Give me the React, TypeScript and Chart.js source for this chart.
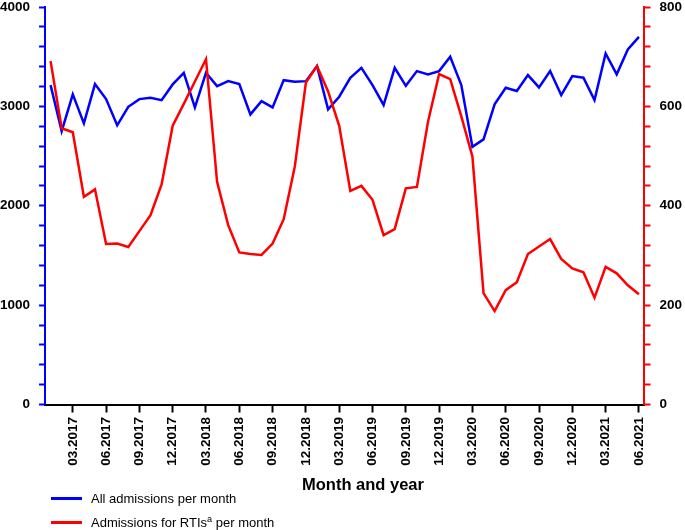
import React, { useEffect, useRef } from "react";
import { Chart, registerables } from "chart.js";

Chart.register(...registerables);

const months: string[] = [
  "01.2017", "02.2017", "03.2017", "04.2017", "05.2017", "06.2017", "07.2017", "08.2017", "09.2017", "10.2017", "11.2017", "12.2017",
  "01.2018", "02.2018", "03.2018", "04.2018", "05.2018", "06.2018", "07.2018", "08.2018", "09.2018", "10.2018", "11.2018", "12.2018",
  "01.2019", "02.2019", "03.2019", "04.2019", "05.2019", "06.2019", "07.2019", "08.2019", "09.2019", "10.2019", "11.2019", "12.2019",
  "01.2020", "02.2020", "03.2020", "04.2020", "05.2020", "06.2020", "07.2020", "08.2020", "09.2020", "10.2020", "11.2020", "12.2020",
  "01.2021", "02.2021", "03.2021", "04.2021", "05.2021", "06.2021",
];

const allAdmissions: number[] = [
  3214, 2751, 3121, 2829, 3224, 3073, 2809, 2996, 3073, 3087, 3063, 3221,
  3338, 2990, 3338, 3204, 3254, 3224, 2919, 3053, 2990, 3264, 3247, 3254,
  3405, 2970, 3097, 3288, 3388, 3214, 3014, 3388, 3207, 3355, 3321, 3355,
  3499, 3214, 2593, 2668, 3020, 3187, 3154, 3315, 3191, 3355, 3114, 3305,
  3288, 3063, 3533, 3322, 3573, 3700,
];

const rtiAdmissions: number[] = [
  691, 556, 548, 418, 433, 323, 324, 317, 349, 381, 443, 561,
  605, 650, 695, 448, 361, 306, 303, 301, 324, 373, 479, 648,
  681, 630, 561, 430, 440, 412, 341, 353, 435, 438, 569, 665,
  655, 580, 499, 224, 188, 230, 246, 303, 318, 333, 293, 274,
  266, 215, 277, 264, 240, 222,
];

const leftTickStep = 200;
const leftLabelStep = 1000;
const rightTickStep = 40;
const rightLabelStep = 200;

const BLUE = "#0000ff";
const RED = "#ff0000";
const FONT = "'Liberation Sans', Arial, Helvetica, sans-serif";

const fixVertical = (s: any) => {
  s.paddingTop = 7;
  s.paddingBottom = 0;
  s.width = s.width - s.options.ticks.padding;
};

export default function App() {
  const canvasRef = useRef<HTMLCanvasElement | null>(null);

  useEffect(() => {
    if (!canvasRef.current) return;
    Chart.defaults.font.family = FONT;
    const chart = new Chart(canvasRef.current, {
      type: "line",
      data: {
        labels: months,
        datasets: [
          {
            label: "All admissions per month",
            data: allAdmissions,
            borderColor: BLUE,
            backgroundColor: BLUE,
            borderWidth: 2.5,
            pointRadius: 0,
            tension: 0,
            yAxisID: "y",
            order: 2,
          },
          {
            label: "Admissions for RTIs per month",
            data: rtiAdmissions,
            borderColor: RED,
            backgroundColor: RED,
            borderWidth: 2.5,
            pointRadius: 0,
            tension: 0,
            yAxisID: "y1",
            order: 1,
          },
        ],
      },
      options: {
        responsive: false,
        animation: false,
        layout: { padding: { left: 0, right: 3, top: 0, bottom: 59.7 } },
        plugins: {
          legend: { display: false },
          tooltip: { enabled: false },
        },
        scales: {
          x: {
            type: "category",
            offset: true,
            afterBuildTicks: (scale: any) => {
              scale.ticks = scale.ticks.filter((t: any) => t.value % 3 === 2);
            },
            afterFit: (s: any) => {
              s.paddingLeft = 0;
              s.paddingRight = 0;
            },
            grid: {
              drawOnChartArea: false,
              drawTicks: true,
              tickLength: 8,
              tickWidth: 2,
              tickColor: "#000",
            },
            border: { display: true, color: "#000", width: 2 },
            ticks: {
              autoSkip: false,
              maxRotation: 90,
              minRotation: 90,
              padding: 4.5,
              color: "#000",
              font: { size: 13.5, weight: "bold", family: FONT },
            },
            title: { display: false },
          },
          y: {
            position: "left",
            min: 0,
            max: 4000,
            afterFit: fixVertical,
            grid: {
              drawOnChartArea: false,
              drawTicks: true,
              tickLength: 6,
              tickWidth: 2,
              tickColor: BLUE,
            },
            border: { display: true, color: BLUE, width: 2 },
            ticks: {
              stepSize: leftTickStep,
              autoSkip: false,
              padding: 9,
              color: "#000",
              font: { size: 13.5, weight: "bold", family: FONT, lineHeight: 1 },
              callback: (v: any) => (Number(v) % leftLabelStep === 0 ? String(v) : ""),
            },
          },
          y1: {
            position: "right",
            min: 0,
            max: 800,
            afterFit: fixVertical,
            grid: {
              drawOnChartArea: false,
              drawTicks: true,
              tickLength: 6,
              tickWidth: 2,
              tickColor: RED,
            },
            border: { display: true, color: RED, width: 2 },
            ticks: {
              stepSize: rightTickStep,
              autoSkip: false,
              padding: 9,
              color: "#000",
              font: { size: 13.5, weight: "bold", family: FONT, lineHeight: 1 },
              callback: (v: any) => (Number(v) % rightLabelStep === 0 ? String(v) : ""),
            },
          },
        },
      } as any,
    });
    return () => chart.destroy();
  }, []);

  const rowStyle: React.CSSProperties = {
    position: "absolute",
    left: 51,
    height: 20,
    display: "flex",
    alignItems: "center",
    fontFamily: FONT,
    fontSize: 13,
    color: "#000",
    whiteSpace: "nowrap",
  };
  const lineStyle = (c: string): React.CSSProperties => ({
    width: 31,
    height: 3,
    background: c,
    marginRight: 9,
  });

  return (
    <div style={{ position: "absolute", left: 0, top: 0, width: 685, height: 530, background: "#fff" }}>
      <canvas ref={canvasRef} width={685} height={530} style={{ display: "block", width: 685, height: 530 }} />
      <div
        style={{
          position: "absolute",
          left: 263,
          width: 200,
          top: 474,
          lineHeight: "20px",
          textAlign: "center",
          fontFamily: FONT,
          fontSize: 16.5,
          fontWeight: "bold",
          color: "#000",
          whiteSpace: "nowrap",
        }}
      >
        Month and year
      </div>
      <div style={{ ...rowStyle, top: 488 }}>
        <div style={lineStyle(BLUE)} />
        <span>All admissions per month</span>
      </div>
      <div style={{ ...rowStyle, top: 512 }}>
        <div style={lineStyle(RED)} />
        <span>
          Admissions for RTIs<sup style={{ fontSize: "0.7em", lineHeight: 0 }}>a</sup> per month
        </span>
      </div>
    </div>
  );
}
